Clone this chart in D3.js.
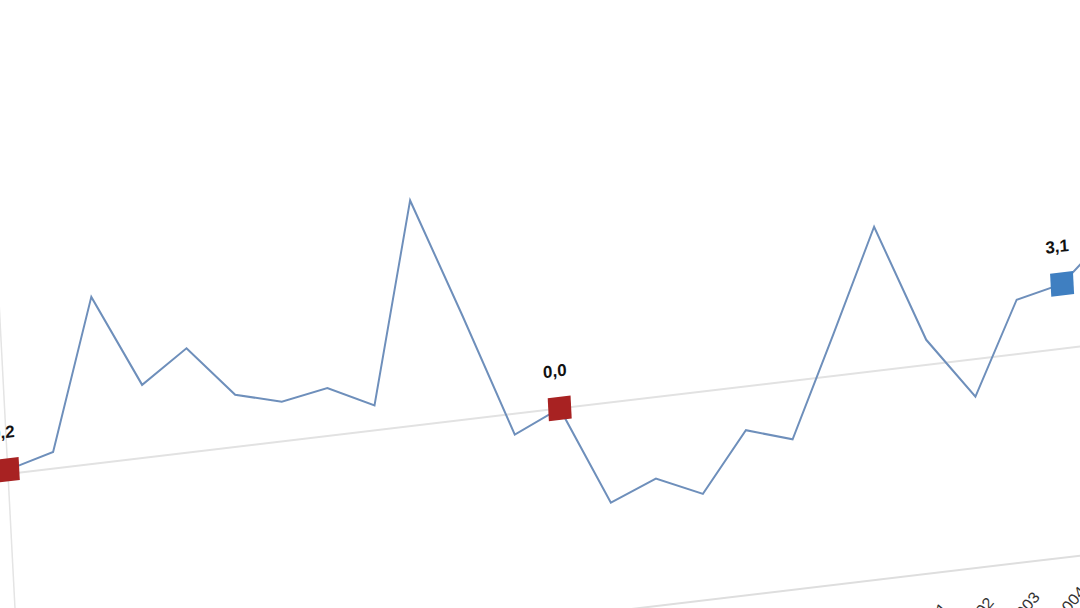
<!DOCTYPE html>
<html>
<head>
<meta charset="utf-8">
<script src="https://cdn.jsdelivr.net/npm/d3@7"></script>
<style>
  html, body { margin: 0; padding: 0; background: #fff; overflow: hidden; }
  svg { display: block; }
</style>
</head>
<body>
<div id="chart"></div>
<script>
// Yearly series (comma decimals in labels)
const years = [1981, 1982, 1983, 1984, 1985, 1986, 1987, 1988, 1989, 1990,
               1991, 1992, 1993, 1994, 1995, 1996, 1997, 1998, 1999, 2000,
               2001, 2002, 2003, 2004, 2005];
const values = [0.2, 0.8, 8.0, 3.5, 5.0, 2.5, 1.9, 2.3, 1.2, 10.8,
                5.0, -1.0, 0.0, -4.8, -3.9, -4.9, -2.1, -2.8, 2.0, 6.9,
                1.2, -1.8, 2.6, 3.1, 5.1];
// highlighted points: index -> colour group
const markedIdx = [0, 12, 23];
const markedKind = ["low", "low", "last"];

const W = 1080, H = 608;
const svg = d3.select("#chart").append("svg")
  .attr("width", W)
  .attr("height", H);

// the whole chart sits tilted, like a photo of a screen
const g = svg.append("g")
  .attr("transform", "matrix(0.993,-0.118,0.052,0.999,8,474)");

const x = d3.scaleLinear()
  .domain([0, years.length - 1])
  .range([0, (years.length - 1) * 46.3]);

const y = d3.scaleLinear()
  .domain([-10, 12])
  .range([208, -249.6]);

const fmt = v => d3.format(".1f")(v).replace(".", ",").replace("-", "\u2212");

// zero line
g.append("line")
  .attr("x1", x(0)).attr("x2", x(years.length - 1) + 60)
  .attr("y1", y(0)).attr("y2", y(0))
  .attr("stroke", "#e2e2e2")
  .attr("stroke-width", 2);

// left axis line
g.append("line")
  .attr("x1", x(0)).attr("x2", x(0))
  .attr("y1", y(12)).attr("y2", y(-10) + 40)
  .attr("stroke", "#e4e4e4")
  .attr("stroke-width", 1.5);

// bottom axis
const xAxis = g.append("g")
  .attr("transform", `translate(0,${y(-10)})`)
  .call(d3.axisBottom(x)
    .tickValues(d3.range(years.length))
    .tickSize(0)
    .tickFormat(i => years[i]));

xAxis.select(".domain")
  .attr("d", `M${x(0)},0H${x(years.length - 1) + 60}`)
  .attr("stroke", "#dedede")
  .attr("stroke-width", 2);

xAxis.selectAll("text")
  .attr("transform", "translate(8,37) rotate(-45)")
  .attr("text-anchor", "end")
  .attr("dy", 0)
  .attr("x", 0).attr("y", 0)
  .style("font-family", "'Liberation Sans', Arial, sans-serif")
  .style("font-size", "16px")
  .style("fill", "#333");

// series line
const line = d3.line()
  .x((d, i) => x(i))
  .y(d => y(d));

g.append("path")
  .datum(values)
  .attr("fill", "none")
  .attr("stroke", "#6e8fbb")
  .attr("stroke-width", 2)
  .attr("stroke-linejoin", "miter")
  .attr("d", line);

// marked points
const colours = { low: "#a82222", last: "#3f7fc1" };
const sq = 23;

g.selectAll("rect.mark")
  .data(markedIdx)
  .join("rect")
  .attr("class", "mark")
  .attr("x", i => x(i) - sq / 2)
  .attr("y", i => y(values[i]) - sq / 2)
  .attr("width", sq)
  .attr("height", sq)
  .attr("fill", (i, k) => colours[markedKind[k]]);

g.selectAll("text.val")
  .data(markedIdx)
  .join("text")
  .attr("class", "val")
  .attr("x", i => x(i) - 3)
  .attr("y", i => y(values[i]) - 32)
  .attr("text-anchor", "middle")
  .style("font-family", "'Liberation Sans Narrow', 'Liberation Sans', Arial, sans-serif")
  .style("font-weight", "bold")
  .style("font-size", "17px")
  .style("fill", "#111")
  .text(i => fmt(values[i]));
</script>
</body>
</html>
